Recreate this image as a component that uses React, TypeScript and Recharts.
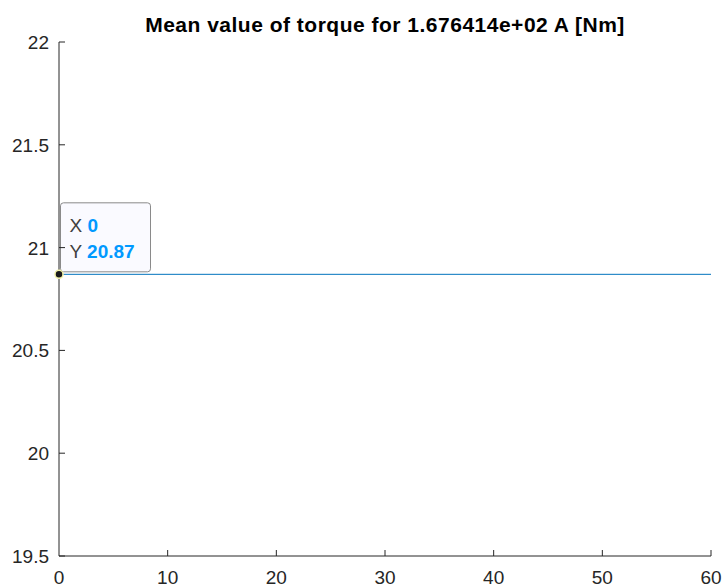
import React from "react";
import { LineChart, Line, XAxis, YAxis, ReferenceDot } from "recharts";

const timeValues = [0, 60];
const torqueValues = [20.87, 20.87];
const xTicks = [0, 10, 20, 30, 40, 50, 60];
const yTicks = [19.5, 20, 20.5, 21, 21.5, 22];
const titleText = "Mean value of torque for 1.676414e+02 A [Nm]";

const data = timeValues.map((t, i) => ({ t, v: torqueValues[i] }));

const FONT = "'Liberation Sans', Arial, Helvetica, sans-serif";
const AXIS = "#262626";
const TICK_FS = 19;

const XTick = (props: any) => {
  const { x, y, payload } = props;
  return (
    <g>
      {payload.value !== 0 ? (
        <line x1={x} y1={y} x2={x} y2={y - 6} stroke={AXIS} strokeWidth={1} />
      ) : null}
      <text x={x} y={y + 28} textAnchor="middle" fill={AXIS} fontSize={TICK_FS} fontFamily={FONT}>
        {payload.value}
      </text>
    </g>
  );
};

const YTick = (props: any) => {
  const { x, y, payload } = props;
  return (
    <g>
      <line x1={x} y1={y} x2={x + 6} y2={y} stroke={AXIS} strokeWidth={1} />
      <text x={x - 10} y={y + 7} textAnchor="end" fill={AXIS} fontSize={TICK_FS} fontFamily={FONT}>
        {payload.value}
      </text>
    </g>
  );
};

const DataTip = (props: any) => {
  const { cx, cy } = props;
  if (cx == null || cy == null) return null;
  const bx = cx + 1.5;
  const by = cy - 71.5;
  return (
    <g>
      <rect x={bx} y={by} width={90} height={69} rx={3} ry={3} fill="#fafaff" stroke="#8a8a8a" strokeWidth={1} />
      <text x={bx + 9} y={by + 29} fontSize={TICK_FS} fontFamily={FONT}>
        <tspan fill="#404040">X </tspan>
        <tspan fill="#0099ff" fontWeight="bold">0</tspan>
      </text>
      <text x={bx + 9} y={by + 55} fontSize={TICK_FS} fontFamily={FONT}>
        <tspan fill="#404040">Y </tspan>
        <tspan fill="#0099ff" fontWeight="bold">20.87</tspan>
      </text>
      <circle cx={cx} cy={cy} r={4} fill="#1a1a1a" stroke="#f2f2a8" strokeWidth={1.5} />
    </g>
  );
};

export default function App() {
  return (
    <div style={{ position: "absolute", left: 0, top: 0, width: 723, height: 588, background: "#fff" }}>
      <LineChart
        width={723}
        height={588}
        data={data}
        margin={{ top: 42, right: 12, bottom: 0, left: 0 }}
      >
        <text
          x={385}
          y={32}
          textAnchor="middle"
          fontSize={21}
          fontWeight="bold"
          letterSpacing={0.5}
          fontFamily={FONT}
          fill="#000"
        >
          {titleText}
        </text>
        <XAxis
          dataKey="t"
          type="number"
          domain={[0, 60]}
          ticks={xTicks}
          interval={0}
          height={32}
          tickSize={0}
          tickMargin={0}
          tickLine={false}
          axisLine={{ stroke: AXIS, strokeWidth: 1 }}
          tick={<XTick />}
          allowDataOverflow
        />
        <YAxis
          type="number"
          domain={[19.5, 22]}
          ticks={yTicks}
          interval={0}
          width={59}
          tickSize={0}
          tickMargin={0}
          tickLine={false}
          axisLine={{ stroke: AXIS, strokeWidth: 1 }}
          tick={<YTick />}
          allowDataOverflow
        />
        <Line
          dataKey="v"
          stroke="#0072BD"
          strokeWidth={1}
          dot={false}
          isAnimationActive={false}
        />
        <ReferenceDot x={0} y={20.87} ifOverflow="visible" shape={<DataTip />} />
      </LineChart>
    </div>
  );
}
